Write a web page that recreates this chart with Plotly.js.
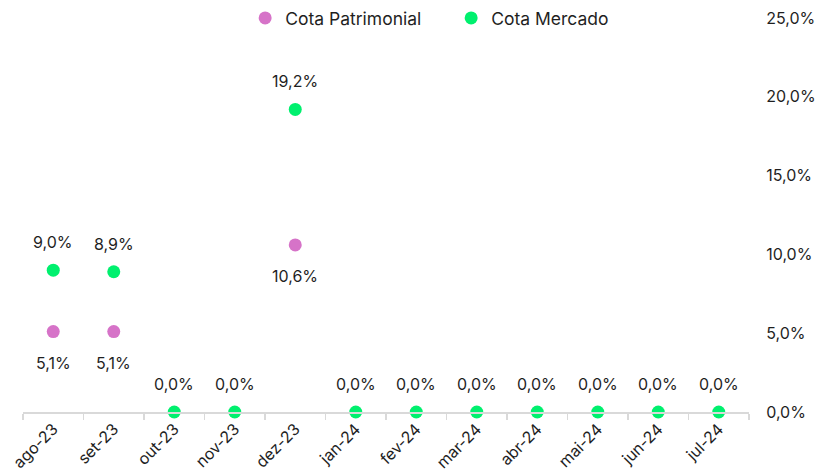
<!DOCTYPE html>
<html><head><meta charset="utf-8">
<script src="https://cdn.plot.ly/plotly-3.0.1.min.js"></script>
<style>body{margin:0;background:#fff}#c{width:819px;height:475px}</style>
</head><body><div id="c"></div>
<script>
const categories = ['ago-23','set-23','out-23','nov-23','dez-23','jan-24','fev-24','mar-24','abr-24','mai-24','jun-24','jul-24'];
const cotaPatrimonial = [5.1, 5.1, null, null, 10.6, null, null, null, null, null, null, null];
const cotaMercado = [9.0, 8.9, 0.0, 0.0, 19.2, 0.0, 0.0, 0.0, 0.0, 0.0, 0.0, 0.0];
const yTicks = [0, 5, 10, 15, 20, 25];

const fmt = v => v.toFixed(1).replace('.', ',') + '%';
const FONT = 'Inter, "Open Sans", sans-serif';
const purple = '#D673C8';
const green = '#00F06E';
const txt = '#1f1f1f';

const annotations = [];
categories.forEach((c, i) => {
  if (cotaMercado[i] !== null) annotations.push({x: c, y: cotaMercado[i], text: fmt(cotaMercado[i]), showarrow: false, yshift: 28, font: {family: FONT, size: 16, color: txt}});
  if (cotaPatrimonial[i] !== null) annotations.push({x: c, y: cotaPatrimonial[i], text: fmt(cotaPatrimonial[i]), showarrow: false, yshift: -31, font: {family: FONT, size: 16, color: txt}});
});

const data = [
  {type: 'scatter', mode: 'markers', name: 'Cota Patrimonial', x: categories, y: cotaPatrimonial, marker: {color: purple, size: 13}, cliponaxis: false},
  {type: 'scatter', mode: 'markers', name: 'Cota Mercado', x: categories, y: cotaMercado, marker: {color: green, size: 13}, cliponaxis: false}
];

const layout = {
  width: 819, height: 475,
  margin: {l: 23, r: 70, t: 18, b: 63, autoexpand: false},
  paper_bgcolor: '#fff', plot_bgcolor: '#fff',
  font: {family: FONT, size: 16, color: txt},
  showlegend: true,
  legend: {orientation: 'h', x: 0.306, xanchor: 'left', y: 1.0, yanchor: 'middle', font: {family: FONT, size: 17.5, color: txt}, entrywidth: 161, entrywidthmode: 'pixels', itemclick: false},
  xaxis: {type: 'category', showgrid: false, zeroline: false, showline: true, linecolor: '#D9D9D9', linewidth: 1.5,
    ticks: 'outside', tickson: 'boundaries', ticklen: 6, tickcolor: '#D9D9D9', tickwidth: 1.5, tickangle: -45,
    tickfont: {family: FONT, size: 16, color: txt}, range: [-0.5, 11.5]},
  yaxis: {side: 'right', range: [0, 25], tickvals: yTicks, ticktext: yTicks.map(fmt), showgrid: false, zeroline: false, showline: false,
    ticks: 'outside', ticklen: 13, tickcolor: 'rgba(0,0,0,0)', tickfont: {family: FONT, size: 16, color: txt}},
  annotations: annotations
};

Plotly.newPlot('c', data, layout, {displayModeBar: false, staticPlot: true});
</script></body></html>
